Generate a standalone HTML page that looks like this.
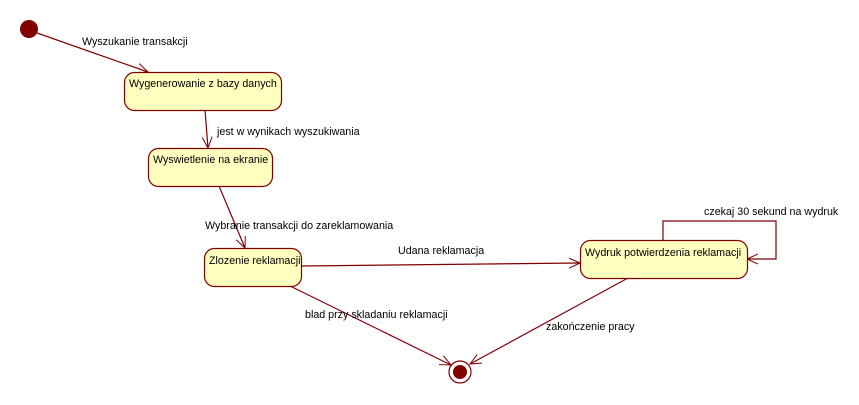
<!DOCTYPE html>
<html><head><meta charset="utf-8"><style>
html,body{margin:0;padding:0;background:#fff;}
svg{display:block}
text{font-family:"Liberation Sans",sans-serif;font-size:10.7px;fill:#000}
</style></head><body>
<svg width="859" height="405" viewBox="0 0 859 405" xmlns="http://www.w3.org/2000/svg">
<defs>
<marker id="a" markerWidth="12" markerHeight="12" refX="11" refY="6" orient="auto" markerUnits="userSpaceOnUse">
<path d="M0,1 L11,6 L0,11" fill="none" stroke="#800000" stroke-width="1"/>
</marker>
</defs>
<g stroke="#800000" stroke-width="1.2" fill="none">
<line x1="37" y1="33" x2="148" y2="72" marker-end="url(#a)"/>
<line x1="205" y1="110" x2="208" y2="148" marker-end="url(#a)"/>
<line x1="219" y1="186" x2="245" y2="248" marker-end="url(#a)"/>
<line x1="302" y1="266" x2="580" y2="263" marker-end="url(#a)"/>
<line x1="290" y1="286" x2="451" y2="365" marker-end="url(#a)"/>
<line x1="628" y1="278" x2="470" y2="364" marker-end="url(#a)"/>
<polyline points="663,240 663,221 776,221 776,259 747,259" marker-end="url(#a)"/>
</g>
<circle cx="29" cy="29" r="9" fill="#800000"/>
<circle cx="460" cy="372" r="11" fill="#fff" stroke="#800000" stroke-width="1.2"/>
<circle cx="460" cy="372" r="7" fill="#800000"/>
<g fill="#ffffc0" stroke="#800000" stroke-width="1.2">
<rect x="124.5" y="72.5" width="157" height="38" rx="10"/>
<rect x="148.5" y="148.5" width="124" height="38" rx="10"/>
<rect x="204.5" y="248.5" width="97" height="38" rx="10"/>
<rect x="580.5" y="240.5" width="167" height="38" rx="10"/>
</g>
<text x="129" y="87">Wygenerowanie z bazy danych</text>
<text x="153" y="163">Wyswietlenie na ekranie</text>
<text x="209" y="264">Zlozenie reklamacji</text>
<text x="585" y="256">Wydruk potwierdzenia reklamacji</text>
<text x="82" y="45">Wyszukanie transakcji</text>
<text x="217" y="135">jest w wynikach wyszukiwania</text>
<text x="205" y="229">Wybranie transakcji do zareklamowania</text>
<text x="398" y="254">Udana reklamacja</text>
<text x="704" y="215">czekaj 30 sekund na wydruk</text>
<text x="305" y="318">blad przy skladaniu reklamacji</text>
<text x="546" y="330">zakończenie pracy</text>
</svg>
</body></html>
